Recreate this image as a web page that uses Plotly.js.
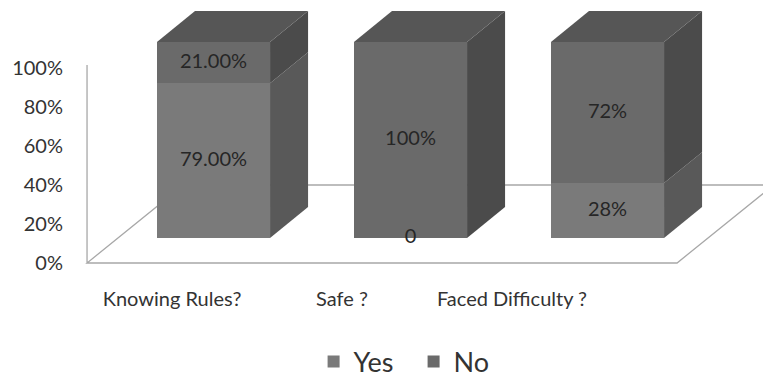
<!DOCTYPE html>
<html>
<head>
<meta charset="utf-8">
<script src="https://cdn.plot.ly/plotly-3.0.1.min.js"></script>
<style>
  html, body { margin: 0; padding: 0; background: #ffffff; }
  #chart { width: 763px; height: 379px; }
</style>
</head>
<body>
<div id="chart"></div>
<script>
// Survey answers, shares of respondents per question
const categories = ['Knowing Rules?', 'Safe ?', 'Faced Difficulty ?'];
const yesValues = [0.79, 0, 0.28];
const noValues = [0.21, 1.00, 0.72];
// number format used for each printed value
const yesLabelFormats = ['.2%', 'd', '.0%'];
const noLabelFormats = ['.2%', '.0%', '.0%'];
const percentTicks = [0, 0.2, 0.4, 0.6, 0.8, 1.0];

// --- styling / pseudo-3D geometry (axis units) ---
const FONT = 'Lato, "Open Sans", "Liberation Sans", sans-serif';
const BAR_W = 0.574;      // front face width
const DEPTH_X = 0.193;    // receding offset of the bar's back face
const DEPTH_Y = 0.158;
const COLORS = {
  yesFront: '#7a7a7a', noFront: '#6a6a6a',
  yesSide: '#595959', noSide: '#4b4b4b', top: '#565656'
};

const xs = categories.map((_, i) => i);
const traces = [];

// front faces: a regular stacked bar chart
traces.push({
  type: 'bar', name: 'Yes', x: xs, y: yesValues, width: BAR_W,
  marker: { color: COLORS.yesFront, line: { width: 0 } }, hoverinfo: 'skip'
});
traces.push({
  type: 'bar', name: 'No', x: xs, y: noValues, width: BAR_W,
  marker: { color: COLORS.noFront, line: { width: 0 } }, hoverinfo: 'skip'
});

// side and top faces derived from the same stacked values
function face(px, py, color) {
  traces.push({
    type: 'scatter', mode: 'lines', x: px, y: py, fill: 'toself',
    fillcolor: color, line: { width: 0, color: color },
    hoverinfo: 'skip', showlegend: false
  });
}
xs.forEach((i) => {
  const right = i + BAR_W / 2, left = i - BAR_W / 2;
  const segments = [
    [0, yesValues[i], COLORS.yesSide],
    [yesValues[i], yesValues[i] + noValues[i], COLORS.noSide]
  ];
  segments.forEach(([b, t, c]) => {
    if (t > b) {
      face([right, right + DEPTH_X, right + DEPTH_X, right, right],
           [b, b + DEPTH_Y, t + DEPTH_Y, t, b], c);
    }
  });
  const top = yesValues[i] + noValues[i];
  face([left, right, right + DEPTH_X, left + DEPTH_X, left],
       [top, top, top + DEPTH_Y, top + DEPTH_Y, top], COLORS.top);
});

// value labels at the middle of each segment
const midY = [], midX = [], vals = [], tmpl = [];
xs.forEach((i) => {
  midX.push(i); midY.push(yesValues[i] / 2); vals.push(yesValues[i]);
  tmpl.push('%{customdata:' + yesLabelFormats[i] + '}');
  midX.push(i); midY.push(yesValues[i] + noValues[i] / 2); vals.push(noValues[i]);
  tmpl.push('%{customdata:' + noLabelFormats[i] + '}');
});
traces.push({
  type: 'scatter', mode: 'text', x: midX, y: midY, customdata: vals,
  texttemplate: tmpl, textposition: 'middle center',
  textfont: { family: FONT, size: 20, color: '#262626' },
  hoverinfo: 'skip', showlegend: false
});

// carriers for the percent axis and the category axis
traces.push({
  type: 'scatter', mode: 'markers', x: xs, y: percentTicks.slice(0, 3),
  xaxis: 'x', yaxis: 'y2', marker: { opacity: 0 }, hoverinfo: 'skip', showlegend: false
});
traces.push({
  type: 'scatter', mode: 'markers', x: categories, y: yesValues,
  xaxis: 'x2', yaxis: 'y', marker: { opacity: 0 }, hoverinfo: 'skip', showlegend: false
});

// floor outline and left wall edge, in percent-axis units
const FL = -0.642, FR = 2.353, FD = 0.4, FDX = 0.49;
const floorPath = `M${FL},0 L${FR},0 L${FR + FDX},${FD} L${FL + FDX},${FD} Z M${FL},0 L${FL},1.015`;

const layout = {
  width: 763, height: 379,
  margin: { l: 0, r: 0, t: 0, b: 0, autoexpand: false },
  paper_bgcolor: '#ffffff', plot_bgcolor: 'rgba(0,0,0,0)',
  barmode: 'stack',
  font: { family: FONT, color: '#333333' },
  xaxis: { range: [-1.0838, 2.7893], visible: false, fixedrange: true },
  yaxis: { range: [-0.7194, 1.2143], visible: false, fixedrange: true },
  yaxis2: {
    overlaying: 'y', anchor: 'free', position: 87 / 763, side: 'left',
    range: [-0.5949, 1.3487], tickvals: percentTicks, tickformat: '.0%',
    showgrid: false, zeroline: false, showline: false, ticks: '',
    ticklabelstandoff: 24, automargin: false,
    tickfont: { family: FONT, size: 20, color: '#333333' }, fixedrange: true
  },
  xaxis2: {
    overlaying: 'x', anchor: 'free', position: 1 - 263 / 379, side: 'bottom',
    type: 'category', categoryarray: categories, range: [-1.0118, 3.4765],
    showgrid: false, zeroline: false, showline: false, ticks: '',
    ticklabelstandoff: 22, automargin: false,
    tickfont: { family: FONT, size: 20, color: '#333333' }, fixedrange: true
  },
  shapes: [{
    type: 'path', xref: 'x', yref: 'y2', layer: 'below', path: floorPath,
    line: { color: '#a8a8a8', width: 1.3 }, fillcolor: 'rgba(0,0,0,0)'
  }],
  showlegend: true,
  legend: {
    orientation: 'h', x: 0.411, y: 1 - 362 / 379, xanchor: 'left', yanchor: 'middle',
    font: { family: FONT, size: 27, color: '#333333' },
    entrywidth: 55, itemwidth: 30,
    bgcolor: 'rgba(0,0,0,0)', traceorder: 'normal'
  }
};

Plotly.newPlot('chart', traces, layout, { displayModeBar: false, staticPlot: true });
</script>
</body>
</html>
